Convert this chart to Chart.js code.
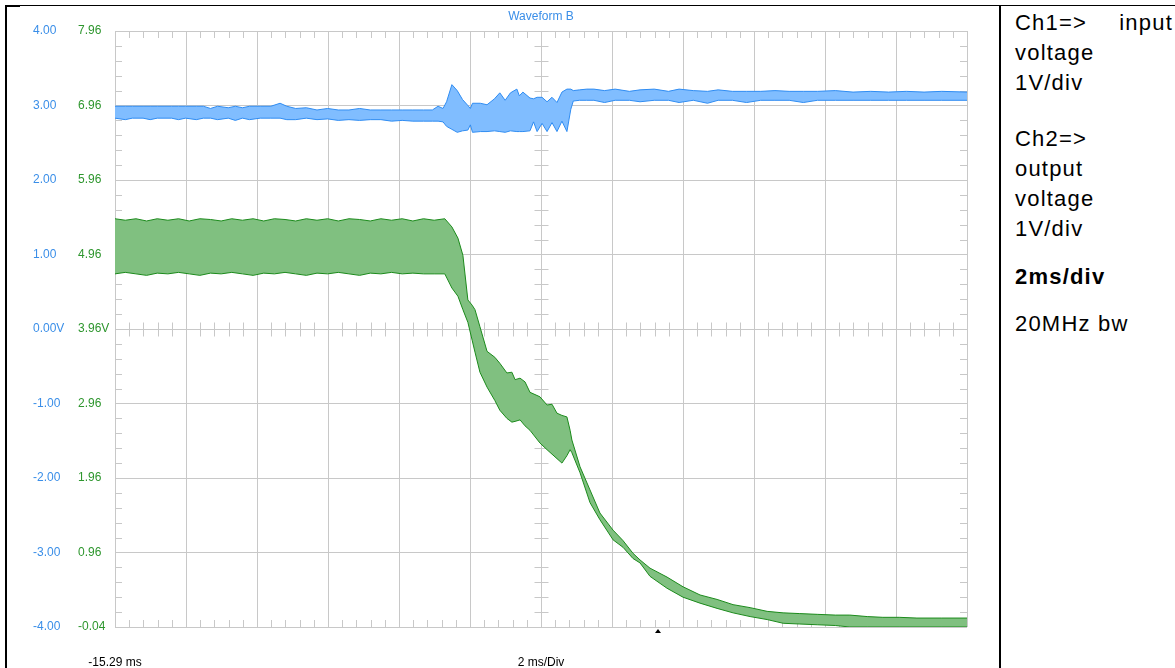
<!DOCTYPE html>
<html>
<head>
<meta charset="utf-8">
<script src="https://cdn.jsdelivr.net/npm/chart.js@4.4.1/dist/chart.umd.min.js"></script>
<style>
  html, body { margin: 0; padding: 0; background: #fff; }
  #page { position: relative; width: 1175px; height: 668px; overflow: hidden; font-family: "Liberation Sans", Arial, sans-serif; }
  .rule { position: absolute; background: #000; }
  #scope-box { position: absolute; left: 0; top: 0; width: 995px; height: 668px; }
  .note { position: absolute; left: 1015px; font-size: 22px; line-height: 30px; letter-spacing: 1.2px; color: #000; white-space: nowrap; }
  .just { display: flex; justify-content: space-between; width: 158px; }
</style>
</head>
<body>
<div id="page">
  <div id="scope-box"><canvas id="scope"></canvas></div>
  <div class="rule" style="left:5px; top:5px; width:1170px; height:1px"></div>
  <div class="rule" style="left:5px; top:5px; width:15px; height:2px"></div>
  <div class="rule" style="left:5px; top:5px; width:2px; height:663px"></div>
  <div class="rule" style="left:999px; top:5px; width:2px; height:663px"></div>
  <div class="note" style="top:8px"><div class="just"><span>Ch1=&gt;</span><span>input</span></div>voltage<br>1V/div</div>
  <div class="note" style="top:124px">Ch2=&gt;<br>output<br>voltage<br>1V/div</div>
  <div class="note" style="top:262px"><b>2ms/div</b></div>
  <div class="note" style="top:309px">20MHz bw</div>
</div>
<script>
// time axis in ms: 12 divisions of 2 ms, starting at -15.29 ms
const timeGrid = [-15.29, -13.29, -11.29, -9.29, -7.29, -5.29, -3.29, -1.29, 0.71, 2.71, 4.71, 6.71, 8.71];
const timeLabels = ["-15.29 ms", "", "", "", "", "", "2 ms/Div", "", "", "", "", "", ""];
const ch1Ticks = [-4, -3, -2, -1, 0, 1, 2, 3, 4];
const ch2Ticks = [-0.04, 0.96, 1.96, 2.96, 3.96, 4.96, 5.96, 6.96, 7.96];
const triggerTime = 0;

// Ch1 (input voltage) envelope, volts
const ch1Time = [
  -15.29, -15.00, -14.80, -14.50, -14.30, -14.10, -13.70, -13.50, -13.30, -13.00,
  -12.80, -12.60, -12.40, -12.10, -11.90, -11.70, -11.50, -11.20, -10.90, -10.64,
  -10.45, -10.20, -9.90, -9.60, -9.30, -9.00, -8.70, -8.40, -8.10, -7.80,
  -7.50, -7.20, -6.90, -6.60, -6.35, -6.19, -6.05, -5.95, -5.80, -5.65,
  -5.50, -5.35, -5.28, -5.22, -5.00, -4.81, -4.60, -4.45, -4.30, -4.15,
  -3.97, -3.90, -3.80, -3.60, -3.50, -3.40, -3.26, -3.12, -2.98, -2.84,
  -2.70, -2.56, -2.45, -2.38, -2.20, -2.00, -1.80, -1.50, -1.20, -0.80,
  -0.50, -0.10, 0.30, 0.60, 1.00, 1.40, 1.70, 2.10, 2.50, 2.90,
  3.30, 3.70, 4.10, 4.50, 5.00, 5.50, 6.00, 6.50, 7.00, 7.50,
  8.00, 8.71
];
const ch1Max = [
  2.99, 2.99, 2.99, 2.99, 2.99, 2.99, 2.99, 2.99, 2.99, 2.99,
  2.99, 2.96, 2.99, 2.97, 2.99, 2.97, 2.99, 2.99, 2.99, 3.03,
  2.99, 2.96, 2.97, 2.94, 2.96, 2.94, 2.94, 2.96, 2.94, 2.94,
  2.94, 2.94, 2.94, 2.94, 2.94, 2.99, 2.96, 3.05, 3.28, 3.20,
  3.08, 3.00, 2.96, 3.03, 3.03, 3.01, 3.09, 3.17, 3.07, 3.17,
  3.22, 3.13, 3.18, 3.10, 3.09, 3.11, 3.11, 3.05, 3.11, 3.04,
  3.18, 3.22, 3.22, 3.20, 3.21, 3.22, 3.22, 3.20, 3.22, 3.19,
  3.21, 3.22, 3.19, 3.22, 3.20, 3.19, 3.21, 3.19, 3.19, 3.19,
  3.20, 3.19, 3.19, 3.19, 3.20, 3.18, 3.19, 3.18, 3.19, 3.18,
  3.19, 3.18
];
const ch1Min = [
  2.83, 2.81, 2.83, 2.83, 2.81, 2.83, 2.83, 2.81, 2.83, 2.81,
  2.83, 2.83, 2.81, 2.83, 2.80, 2.83, 2.81, 2.83, 2.83, 2.83,
  2.81, 2.81, 2.83, 2.81, 2.82, 2.80, 2.81, 2.80, 2.81, 2.81,
  2.79, 2.80, 2.79, 2.79, 2.79, 2.79, 2.78, 2.72, 2.68, 2.64,
  2.66, 2.67, 2.74, 2.64, 2.65, 2.65, 2.66, 2.65, 2.64, 2.66,
  2.65, 2.65, 2.65, 2.66, 2.78, 2.65, 2.76, 2.65, 2.77, 2.65,
  2.79, 2.65, 2.95, 3.06, 3.07, 3.07, 3.07, 3.04, 3.07, 3.07,
  3.05, 3.07, 3.07, 3.04, 3.07, 3.03, 3.07, 3.07, 3.04, 3.07,
  3.07, 3.07, 3.04, 3.07, 3.07, 3.07, 3.07, 3.07, 3.07, 3.07,
  3.07, 3.07
];

// Ch2 (output voltage) envelope, volts on the Ch2 scale
const ch2Time = [
  -15.29, -15.00, -14.70, -14.40, -14.10, -13.80, -13.50, -13.20, -12.90, -12.60,
  -12.30, -12.00, -11.70, -11.40, -11.10, -10.80, -10.50, -10.20, -9.90, -9.60,
  -9.30, -9.00, -8.70, -8.40, -8.10, -7.80, -7.50, -7.20, -6.90, -6.60,
  -6.30, -6.00, -5.80, -5.63, -5.49, -5.35, -5.23, -5.15, -5.01, -4.81,
  -4.59, -4.45, -4.25, -4.11, -4.02, -3.88, -3.74, -3.60, -3.32, -3.12,
  -2.98, -2.84, -2.70, -2.56, -2.47, -2.42, -2.19, -1.91, -1.63, -1.26,
  -0.98, -0.70, -0.50, -0.22, 0.26, 0.71, 1.19, 1.67, 2.12, 2.60,
  3.08, 3.53, 4.00, 4.49, 5.00, 5.41, 5.90, 6.34, 6.80, 7.30,
  8.00, 8.71
];
const ch2Max = [
  5.44, 5.42, 5.44, 5.41, 5.44, 5.42, 5.44, 5.41, 5.44, 5.43,
  5.41, 5.44, 5.42, 5.44, 5.41, 5.44, 5.43, 5.41, 5.44, 5.42,
  5.44, 5.41, 5.44, 5.43, 5.41, 5.44, 5.42, 5.44, 5.41, 5.44,
  5.42, 5.44, 5.33, 5.18, 4.95, 4.35, 4.28, 4.22, 3.99, 3.66,
  3.58, 3.50, 3.37, 3.38, 3.28, 3.30, 3.25, 3.11, 3.05, 2.94,
  2.95, 2.83, 2.80, 2.78, 2.60, 2.47, 2.11, 1.80, 1.49, 1.26,
  1.12, 0.95, 0.86, 0.75, 0.63, 0.50, 0.39, 0.33, 0.26, 0.22,
  0.17, 0.15, 0.14, 0.13, 0.12, 0.12, 0.10, 0.09, 0.09, 0.08,
  0.08, 0.08
];
const ch2Min = [
  4.70, 4.72, 4.70, 4.68, 4.71, 4.70, 4.72, 4.70, 4.68, 4.71,
  4.70, 4.72, 4.70, 4.68, 4.71, 4.70, 4.72, 4.70, 4.68, 4.71,
  4.70, 4.72, 4.70, 4.68, 4.71, 4.70, 4.72, 4.70, 4.71, 4.70,
  4.70, 4.70, 4.51, 4.40, 4.22, 4.05, 3.81, 3.65, 3.38, 3.18,
  3.00, 2.87, 2.76, 2.71, 2.72, 2.74, 2.66, 2.60, 2.43, 2.34,
  2.28, 2.22, 2.16, 2.26, 2.34, 2.30, 2.03, 1.63, 1.40, 1.13,
  1.03, 0.88, 0.82, 0.64, 0.48, 0.36, 0.28, 0.21, 0.15, 0.10,
  0.06, 0.01, 0.00, -0.01, -0.02, -0.04, -0.04, -0.04, -0.04, -0.04,
  -0.04, -0.04
];

const blueText = "#3a8ee8";
const greenText = "#2e962e";
const gridColor = "#c8c8c8";
Chart.defaults.font.family = "'Liberation Sans', Arial, sans-serif";
Chart.defaults.font.size = 12;

const toPoints = (t, v) => t.map((x, i) => ({ x: x, y: v[i] }));

// minor ticks along the frame and the centre cross, plus the trigger marker
const scopeMarks = {
  id: "scopeMarks",
  beforeDatasetsDraw(chart) {
    const { ctx, chartArea: a, scales } = chart;
    const x = scales.x, y = scales.y;
    const cy = Math.round(y.getPixelForValue(0)) + 0.5;
    const cx = Math.round(x.getPixelForValue(timeGrid[6])) + 0.5;
    ctx.save();
    ctx.strokeStyle = gridColor;
    ctx.lineWidth = 1;
    ctx.beginPath();
    for (let i = 1; i < 60; i++) {
      if (i % 5 === 0) continue;
      const px = Math.round(x.getPixelForValue(timeGrid[0] + i * 0.4)) + 0.5;
      ctx.moveTo(px, a.top); ctx.lineTo(px, a.top + 7);
      ctx.moveTo(px, a.bottom); ctx.lineTo(px, a.bottom - 7);
      ctx.moveTo(px, cy - 7); ctx.lineTo(px, cy + 7);
    }
    for (let i = 1; i < 40; i++) {
      if (i % 5 === 0) continue;
      const py = Math.round(y.getPixelForValue(-4 + i * 0.2)) + 0.5;
      ctx.moveTo(a.left, py); ctx.lineTo(a.left + 7, py);
      ctx.moveTo(a.right, py); ctx.lineTo(a.right - 7, py);
      ctx.moveTo(cx - 7, py); ctx.lineTo(cx + 7, py);
    }
    ctx.stroke();
    ctx.restore();
  },
  afterDraw(chart) {
    const { ctx, chartArea: a, scales } = chart;
    const tx = Math.round(scales.x.getPixelForValue(triggerTime));
    ctx.save();
    ctx.fillStyle = "#000";
    ctx.beginPath();
    ctx.moveTo(tx, a.bottom + 2);
    ctx.lineTo(tx + 3, a.bottom + 6);
    ctx.lineTo(tx - 3, a.bottom + 6);
    ctx.closePath();
    ctx.fill();
    ctx.restore();
  }
};

const lineStyle = { borderWidth: 1, pointRadius: 0, tension: 0 };

const config = {
  type: "line",
  data: {
    datasets: [
      { ...lineStyle, label: "Ch1 max", data: toPoints(ch1Time, ch1Max), yAxisID: "y", borderColor: "#2f8cf2", fill: false },
      { ...lineStyle, label: "Ch1 min", data: toPoints(ch1Time, ch1Min), yAxisID: "y", borderColor: "#2f8cf2", backgroundColor: "#80bdff", fill: "-1" },
      { ...lineStyle, label: "Ch2 max", data: toPoints(ch2Time, ch2Max), yAxisID: "y2", borderColor: "#1b8a1b", fill: false },
      { ...lineStyle, label: "Ch2 min", data: toPoints(ch2Time, ch2Min), yAxisID: "y2", borderColor: "#1b8a1b", backgroundColor: "#80c080", fill: "-1" },
    ],
  },
  options: {
    animation: false,
    responsive: true,
    maintainAspectRatio: false,
    layout: { padding: { left: 33, right: 28, top: 0, bottom: 0 } },
    plugins: { legend: { display: false }, tooltip: { enabled: false } },
    scales: {
      x: {
        type: "linear",
        position: "bottom",
        min: timeGrid[0],
        max: timeGrid[timeGrid.length - 1],
        afterBuildTicks: (s) => { s.ticks = timeGrid.map((v) => ({ value: v })); },
        afterFit: (s) => { s.height = 41; },
        ticks: { callback: (v, i) => timeLabels[i], autoSkip: false, maxRotation: 0, padding: 28, color: "#000" },
        grid: { color: gridColor, drawTicks: false },
        border: { display: false },
      },
      x2: {
        type: "linear",
        position: "top",
        min: timeGrid[0],
        max: timeGrid[timeGrid.length - 1],
        afterFit: (s) => { s.height = 31; },
        ticks: { display: false },
        title: { display: true, text: "Waveform B", color: blueText, font: { size: 12 }, padding: { top: 9, bottom: 0 } },
        grid: { display: false, drawTicks: false },
        border: { display: false },
      },
      y: {
        type: "linear",
        position: "left",
        weight: 2,
        min: -4,
        max: 4,
        afterBuildTicks: (s) => { s.ticks = ch1Ticks.map((v) => ({ value: v })); },
        afterFit: (s) => { s.width = 45; },
        ticks: { callback: (v) => v.toFixed(2) + (v === 0 ? "V" : ""), crossAlign: "far", color: blueText },
        grid: { color: gridColor, drawTicks: false },
        border: { display: false },
      },
      y2: {
        type: "linear",
        position: "left",
        weight: 1,
        min: -0.04,
        max: 7.96,
        afterBuildTicks: (s) => { s.ticks = ch2Ticks.map((v) => ({ value: v })); },
        afterFit: (s) => { s.width = 37; },
        ticks: { callback: (v) => v.toFixed(2) + (Math.abs(v - 3.96) < 1e-6 ? "V" : ""), crossAlign: "far", color: greenText },
        grid: { display: false, drawTicks: false },
        border: { display: false },
      },
    },
  },
  plugins: [scopeMarks],
};

const scopeChart = new Chart(document.getElementById("scope"), config);
</script>
</body>
</html>
